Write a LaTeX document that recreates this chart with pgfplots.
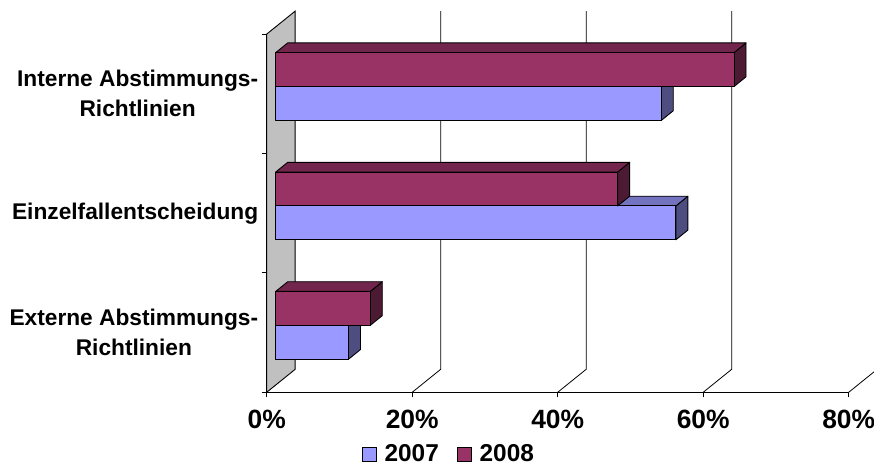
\documentclass[border=0pt]{standalone}
\usepackage{pgfplots}
\pgfplotsset{compat=1.18}
\usepackage{fontspec}
\setmainfont{Liberation Sans}
\definecolor{cA}{HTML}{9999FF}
\definecolor{cAtop}{HTML}{7373BF}
\definecolor{cAside}{HTML}{4D4D80}
\definecolor{cB}{HTML}{993366}
\definecolor{cBtop}{HTML}{73264D}
\definecolor{cBside}{HTML}{4D1A33}
\definecolor{wall}{HTML}{C0C0C0}
\begin{document}
\begin{tikzpicture}
% ---------- 3D part: wall, floor, grid, bars ----------
\begin{axis}[
  anchor=origin, at={(0,0)},
  x={(7.275bp,0bp)}, y={(0bp,119.4bp)}, z={(28.5bp,23bp)},
  xmin=0, xmax=80, ymin=0, ymax=3, zmin=0, zmax=1,
  hide axis, clip=false,
  bar/.style={draw=black, line width=0.9bp, line join=round},
]
\filldraw[fill=wall, draw=black, line width=0.9bp]
  (axis cs:0,0,0) -- (axis cs:0,3,0) -- (axis cs:0,3,1) -- (axis cs:0,0,1) -- cycle;
\pgfplotsinvokeforeach{20,40,60,80}{
  \draw[black, line width=0.8bp] (axis cs:#1,0,0) -- (axis cs:#1,0,1) -- (axis cs:#1,3,1);
}
% Externe Abstimmungs-Richtlinien : 2007 = 10, 2008 = 13
\addplot3[bar, fill=cAside] coordinates {(10,0.216,0.316) (10,0.216,0.737) (10,0.5,0.737) (10,0.5,0.316)} -- cycle;
\addplot3[bar, fill=cAtop]  coordinates {(0,0.5,0.316) (10,0.5,0.316) (10,0.5,0.737) (0,0.5,0.737)} -- cycle;
\addplot3[bar, fill=cA]     coordinates {(0,0.216,0.316) (10,0.216,0.316) (10,0.5,0.316) (0,0.5,0.316)} -- cycle;
\addplot3[bar, fill=cBside] coordinates {(13,0.5,0.316) (13,0.5,0.737) (13,0.784,0.737) (13,0.784,0.316)} -- cycle;
\addplot3[bar, fill=cBtop]  coordinates {(0,0.784,0.316) (13,0.784,0.316) (13,0.784,0.737) (0,0.784,0.737)} -- cycle;
\addplot3[bar, fill=cB]     coordinates {(0,0.5,0.316) (13,0.5,0.316) (13,0.784,0.316) (0,0.784,0.316)} -- cycle;
% Einzelfallentscheidung : 2007 = 55, 2008 = 47
\addplot3[bar, fill=cAside] coordinates {(55,1.216,0.316) (55,1.216,0.737) (55,1.5,0.737) (55,1.5,0.316)} -- cycle;
\addplot3[bar, fill=cAtop]  coordinates {(0,1.5,0.316) (55,1.5,0.316) (55,1.5,0.737) (0,1.5,0.737)} -- cycle;
\addplot3[bar, fill=cA]     coordinates {(0,1.216,0.316) (55,1.216,0.316) (55,1.5,0.316) (0,1.5,0.316)} -- cycle;
\addplot3[bar, fill=cBside] coordinates {(47,1.5,0.316) (47,1.5,0.737) (47,1.784,0.737) (47,1.784,0.316)} -- cycle;
\addplot3[bar, fill=cBtop]  coordinates {(0,1.784,0.316) (47,1.784,0.316) (47,1.784,0.737) (0,1.784,0.737)} -- cycle;
\addplot3[bar, fill=cB]     coordinates {(0,1.5,0.316) (47,1.5,0.316) (47,1.784,0.316) (0,1.784,0.316)} -- cycle;
% Interne Abstimmungs-Richtlinien : 2007 = 53, 2008 = 63
\addplot3[bar, fill=cAside] coordinates {(53,2.216,0.316) (53,2.216,0.737) (53,2.5,0.737) (53,2.5,0.316)} -- cycle;
\addplot3[bar, fill=cAtop]  coordinates {(0,2.5,0.316) (53,2.5,0.316) (53,2.5,0.737) (0,2.5,0.737)} -- cycle;
\addplot3[bar, fill=cA]     coordinates {(0,2.216,0.316) (53,2.216,0.316) (53,2.5,0.316) (0,2.5,0.316)} -- cycle;
\addplot3[bar, fill=cBside] coordinates {(63,2.5,0.316) (63,2.5,0.737) (63,2.784,0.737) (63,2.784,0.316)} -- cycle;
\addplot3[bar, fill=cBtop]  coordinates {(0,2.784,0.316) (63,2.784,0.316) (63,2.784,0.737) (0,2.784,0.737)} -- cycle;
\addplot3[bar, fill=cB]     coordinates {(0,2.5,0.316) (63,2.5,0.316) (63,2.784,0.316) (0,2.784,0.316)} -- cycle;
\end{axis}
% ---------- 2D part: front axes, labels, legend ----------
\begin{axis}[
  anchor=origin, at={(0,0)},
  x=7.275bp, y=119.4bp,
  xmin=0, xmax=80, ymin=0, ymax=3,
  axis x line*=bottom, axis y line*=left,
  axis line style={line width=0.9bp, black},
  tick align=outside, major tick length=5bp,
  tick style={black, line width=0.8bp},
  xtick={0,20,40,60,80},
  xticklabels={0\%,20\%,40\%,60\%,80\%},
  xticklabel style={font=\fontsize{26.5}{30}\selectfont\bfseries, yshift=-9bp},
  ytick={0,1,2,3}, yticklabels={},
  extra y ticks={0.5,1.5,2.5},
  extra y tick labels={{Externe Abstimmungs-\\Richtlinien},{Einzelfallentscheidung},{Interne Abstimmungs-\\Richtlinien}},
  extra y tick style={major tick length=0pt,
    yticklabel style={align=center, xshift=-5bp, font=\fontsize{22.8}{30}\selectfont\bfseries}},
  clip=false,
  legend columns=2,
  legend style={at={(0.313,-0.172)}, anchor=center, draw=none, fill=none,
    font=\fontsize{24.5}{27}\selectfont\bfseries,
    /tikz/every odd column/.append style={column sep=6bp},
    /tikz/every even column/.append style={column sep=16bp}},
  legend image code/.code={\draw[#1, line width=0.8bp] (0bp,-7bp) rectangle (14bp,7bp);},
]
\addlegendimage{fill=cA, draw=black}
\addlegendentry{2007}
\addlegendimage{fill=cB, draw=black}
\addlegendentry{2008}
\coordinate (TL) at (axis cs:-36.66,3.2856);
\coordinate (BR) at (axis cs:83.48,-0.617);
\end{axis}
\pgfresetboundingbox
\path[use as bounding box] (TL) rectangle (BR);
\end{tikzpicture}
\end{document}
